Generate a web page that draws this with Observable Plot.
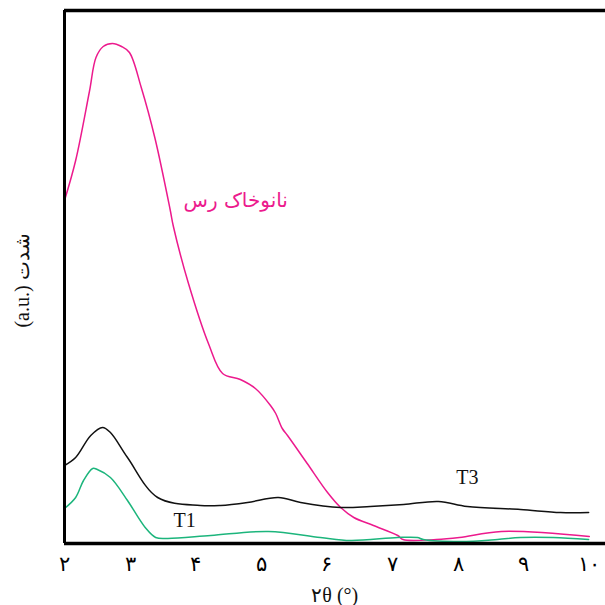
<!DOCTYPE html>
<html><head><meta charset="utf-8">
<script src="https://cdn.jsdelivr.net/npm/d3@7"></script>
<script src="https://cdn.jsdelivr.net/npm/@observablehq/plot@0.6"></script>
<style>body{margin:0;background:#fff}</style>
</head><body><div id="chart"></div>
<script>
const tickValues = [2,3,4,5,6,7,8,9,10];
const tickLabels = ["۲","۳","۴","۵","۶","۷","۸","۹","۱۰"];

const nanoX = [2.00,2.17,2.38,2.48,2.59,2.73,2.87,2.99,3.17,3.38,3.61,3.66,3.89,4.20,4.41,4.68,4.91,5.14,5.22,5.32,5.40,5.70,6.01,6.21,6.41,6.71,7.08,7.16,7.67,8.02,8.66,10.00];
const nanoY = [343,383,452,486,497,500,497,491,456,405,334,317,260,199,170,164,155,138,130,115,108,80,51,36,26,18,8,4,4,6,12,7];

const t3X = [2.00,2.17,2.40,2.58,2.70,2.96,3.42,4.07,4.38,4.79,5.26,5.60,6.21,6.66,7.17,7.70,8.14,8.95,9.56,9.99];
const t3Y = [78,86,108,116,111,86,46,38,38,41,46,41,36,37,39,42,37,34,31,31];

const t1X = [2.00,2.17,2.29,2.43,2.50,2.70,2.96,3.23,3.39,3.57,4.23,5.11,5.90,6.36,7.08,7.38,7.47,8.04,8.60,8.95,9.45,9.99];
const t1Y = [35,46,63,75,74,66,43,16,6,5,8,12,6,3,6,6,4,2,4,6,6,4];

const toRows = (xs, ys) => xs.map((x, i) => ({x, y: ys[i]}));
const nano = toRows(nanoX, nanoY), t3 = toRows(t3X, t3Y), t1 = toRows(t1X, t1Y);

const serif = "'Liberation Serif','DejaVu Serif',serif";
const chart = Plot.plot({
  width: 605, height: 605,
  marginLeft: 64, marginRight: 0, marginTop: 10, marginBottom: 62,
  x: {domain: [2, 10.247]},
  y: {domain: [0, 533]},
  style: {fontFamily: serif, background: "#fff"},
  marks: [
    Plot.axisX({ticks: tickValues, tickSize: 0, tickPadding: 13, fontSize: 21, label: null,
      tickFormat: d => tickLabels[tickValues.indexOf(d)]}),
    Plot.axisY({ticks: [], label: null}),
    Plot.line(nano, {x: "x", y: "y", stroke: "#ec1a8d", strokeWidth: 1.5, curve: "catmull-rom"}),
    Plot.line(t3, {x: "x", y: "y", stroke: "#111", strokeWidth: 1.5, curve: "catmull-rom"}),
    Plot.line(t1, {x: "x", y: "y", stroke: "#1cb57c", strokeWidth: 1.5, curve: "catmull-rom"}),
    Plot.ruleX([2], {stroke: "#000", strokeWidth: 3}),
    Plot.ruleY([0], {stroke: "#000", strokeWidth: 3.5}),
    Plot.ruleY([533], {stroke: "#000", strokeWidth: 3.5}),
    Plot.text(["نانوخاک رس"], {x: 4.61, y: 343, text: d => d, fill: "#ec1a8d", fontSize: 20, fontFamily: "'DejaVu Sans',sans-serif"}),
    Plot.text(["T1"], {x: 3.83, y: 23, text: d => d, fill: "#111", fontSize: 20}),
    Plot.text(["T3"], {x: 8.14, y: 66, text: d => d, fill: "#111", fontSize: 20}),
    Plot.text(["۲θ (°)"], {x: 6.12, y: 0, dy: 52, text: d => d, fill: "#111", fontSize: 20}),
    Plot.text(["(a.u.) شدت"], {frameAnchor: "left", textAnchor: "middle", y: 263, dx: -42, rotate: -90, text: d => d, fill: "#111", fontSize: 20})
  ]
});
document.getElementById("chart").append(chart);
</script></body></html>
